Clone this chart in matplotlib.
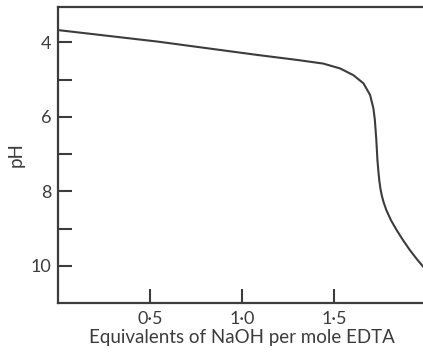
import numpy as np
import matplotlib.pyplot as plt

# titration curve
naoh_eq = [0.0, 0.543, 1.087, 1.297, 1.442, 1.533, 1.605, 1.66, 1.696, 1.714,
           1.722, 1.730, 1.736, 1.741, 1.746, 1.752, 1.76, 1.77, 1.784, 1.81,
           1.839, 1.875, 1.911, 1.95, 1.984, 2.0]
ph = [3.67, 3.98, 4.34, 4.47, 4.57, 4.70, 4.88, 5.10, 5.41, 5.77,
      6.08, 6.62, 7.16, 7.45, 7.70, 7.92, 8.12, 8.30, 8.50, 8.78,
      9.03, 9.31, 9.57, 9.82, 10.02, 10.1]

x_ticks = [0.5, 1.0, 1.5]
x_ticklabels = ['0\u00b75', '1\u00b70', '1\u00b75']
y_ticks = [4, 6, 8, 10]
y_minor = [5, 7, 9]

ink = '#3c3c3c'
plt.rcParams['font.family'] = ['Lato', 'DejaVu Sans']

fig = plt.figure(figsize=(4.23, 3.55), dpi=100)
ax = fig.add_axes([58/423, 52/355, 368/423, 296/355])

ax.plot(naoh_eq, ph, color=ink, lw=1.5, solid_joinstyle='round')

ax.set_xlim(0, 2.0)
ax.set_ylim(11.0, 3.05)

ax.set_xticks(x_ticks)
ax.set_xticklabels(x_ticklabels)
ax.set_yticks(y_ticks)
ax.set_yticks(y_minor, minor=True)

ax.tick_params(axis='both', which='both', direction='in', length=10, width=1.5,
               color=ink, labelcolor=ink, labelsize=13)
ax.tick_params(axis='x', pad=6)
ax.tick_params(axis='y', pad=5)

for side in ['left', 'bottom', 'top']:
    ax.spines[side].set_color(ink)
    ax.spines[side].set_linewidth(1.6)
ax.spines['right'].set_visible(False)

ax.set_xlabel('Equivalents of NaOH per mole EDTA', fontsize=13.5, color=ink, labelpad=1)
ax.set_ylabel('pH', fontsize=13.5, color=ink, labelpad=4)

fig.savefig('out.png', dpi=100)
